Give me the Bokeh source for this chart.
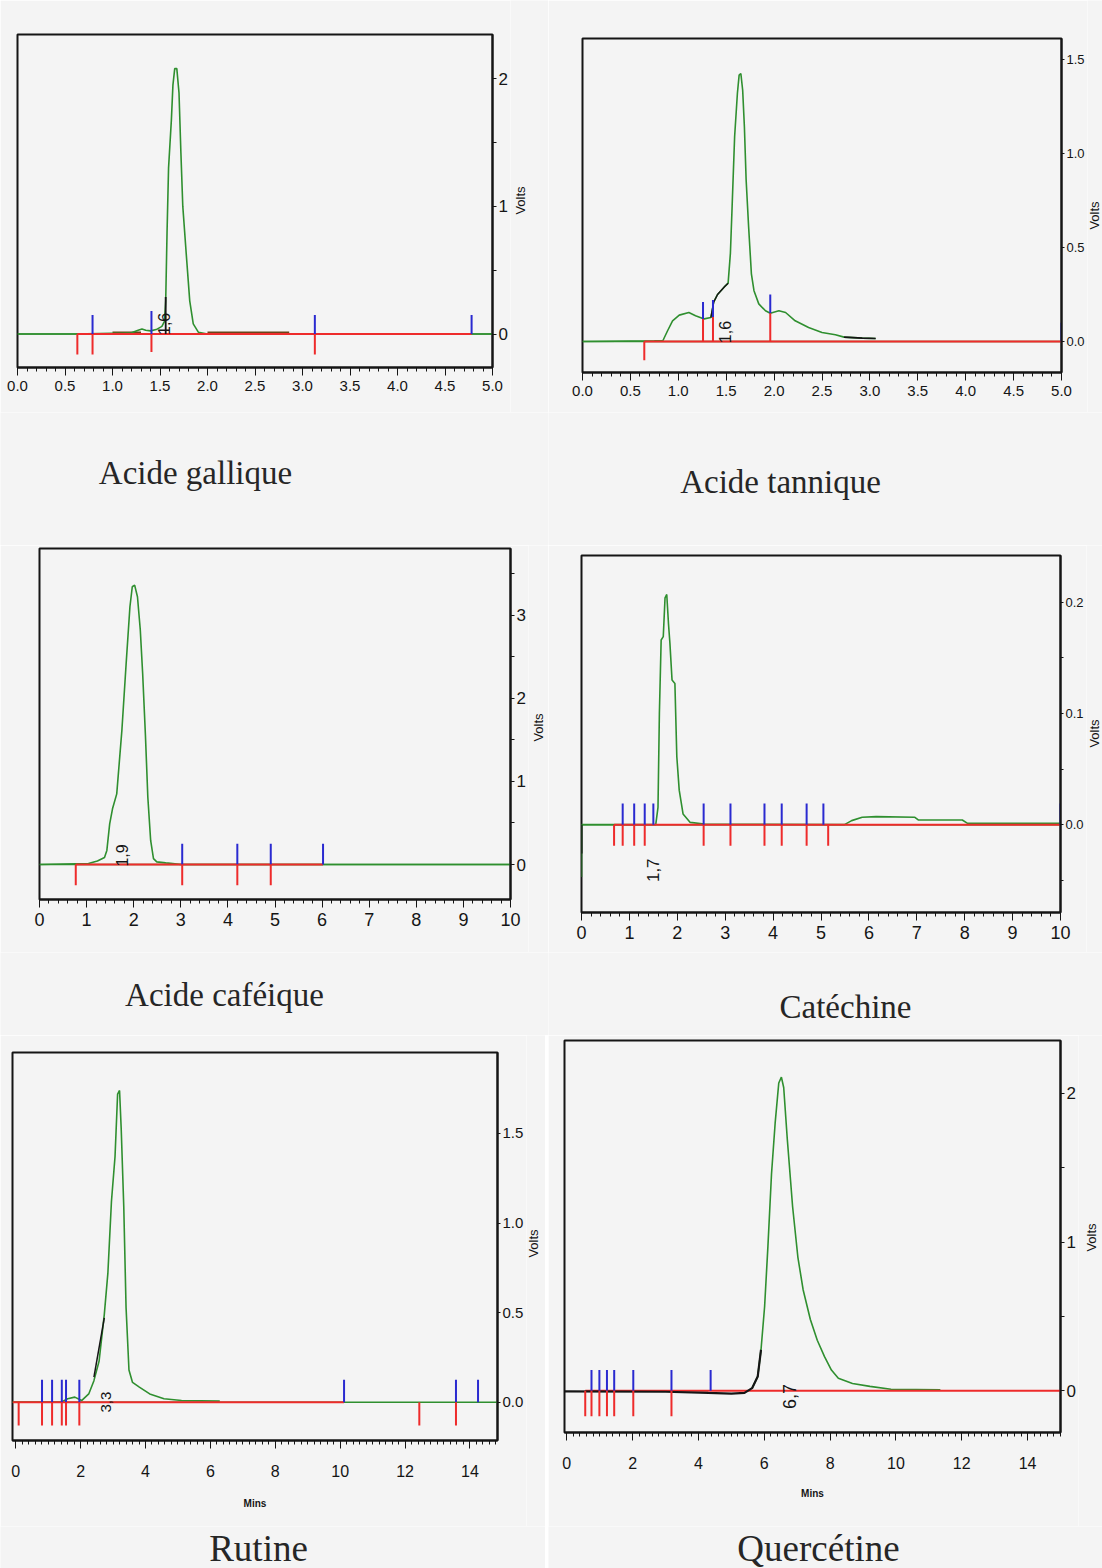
import numpy as np
from bokeh.plotting import figure
from bokeh.layouts import column, row
from bokeh.models import Range1d, FixedTicker, PrintfTickFormatter
from bokeh.core.properties import value
from bokeh.embed import file_html
from bokeh.resources import INLINE

# ------------------------------------------------------------------ data
titles = ["Acide gallique", "Acide tannique", "Acide caféique", "Catéchine", "Rutine", "Quercétine"]
peak_labels = ["1,6", "1,6", "1,9", "1,7", "3,3", "6,7"]
peak_label_t = [1.546, 1.49, 1.75, 1.49, 2.79, 6.76]
peak_label_v = [0.08, 0.05, 0.11, -0.041, 0.0, -0.038]
y_axis_label = "Volts"
x_axis_label = ["", "", "", "", "Mins", "Mins"]

# Acide gallique
gallique_t = [0.00, 0.60, 0.99, 1.10, 1.20, 1.27, 1.31, 1.35, 1.40, 1.46, 1.52, 1.547, 1.56, 1.574,
              1.59, 1.62, 1.636, 1.655, 1.677, 1.70, 1.72, 1.74, 1.776, 1.813, 1.85, 1.905, 2.00, 5.00]
gallique_v = [0.00, 0.00, 0.005, 0.006, 0.010, 0.030, 0.040, 0.030, 0.025, 0.035, 0.060, 0.10, 0.26, 0.79,
              1.30, 1.68, 1.95, 2.08, 2.08, 1.89, 1.42, 1.00, 0.63, 0.26, 0.08, 0.013, 0.00, 0.00]
gallique_blue_t = [0.79, 1.41, 3.13, 4.78]
gallique_blue_v0 = [0.0, 0.0, 0.0, 0.0]
gallique_blue_v1 = [0.15, 0.18, 0.15, 0.15]
gallique_red_t = [0.63, 0.79, 1.41, 3.13]
gallique_red_v0 = [0.0, 0.0, 0.0, 0.0]
gallique_red_v1 = [-0.16, -0.16, -0.14, -0.16]

# Acide tannique
tannique_t = [0.00, 0.75, 0.84, 0.888, 0.94, 1.01, 1.11, 1.18, 1.27, 1.34, 1.37, 1.41, 1.48, 1.52, 1.544,
              1.562, 1.588, 1.617, 1.635, 1.653, 1.672, 1.69, 1.708, 1.734, 1.763, 1.79, 1.84, 1.91, 1.96,
              2.05, 2.12, 2.22, 2.36, 2.50, 2.64, 2.73, 2.92, 3.06]
tannique_v = [0.00, 0.003, 0.005, 0.057, 0.11, 0.14, 0.154, 0.137, 0.12, 0.127, 0.21, 0.25, 0.29, 0.31, 0.47,
              0.72, 1.09, 1.32, 1.416, 1.425, 1.336, 1.14, 0.86, 0.61, 0.36, 0.27, 0.20, 0.163, 0.15,
              0.163, 0.154, 0.11, 0.074, 0.048, 0.036, 0.023, 0.018, 0.016]
tannique_blue_t = [1.258, 1.362, 1.96, 5.0]
tannique_blue_v0 = [0.12, 0.13, 0.15, 0.0]
tannique_blue_v1 = [0.21, 0.22, 0.25, 0.10]
tannique_red_t = [0.645, 1.258, 1.362, 1.96]
tannique_red_v0 = [0.0, 0.12, 0.13, 0.15]
tannique_red_v1 = [-0.10, 0.0, 0.0, 0.0]

# Acide caféique
cafeique_t = [0.00, 1.04, 1.23, 1.38, 1.43, 1.49, 1.55, 1.64, 1.75, 1.84, 1.92, 1.97, 2.02, 2.08, 2.14,
              2.19, 2.25, 2.30, 2.36, 2.42, 2.49, 2.68, 2.83, 3.00, 10.0]
cafeique_v = [0.00, 0.012, 0.044, 0.084, 0.17, 0.49, 0.67, 0.85, 1.62, 2.42, 3.10, 3.34, 3.36, 3.22, 2.82,
              2.30, 1.54, 0.81, 0.29, 0.072, 0.032, 0.02, 0.012, 0.0, 0.0]
cafeique_blue_t = [3.03, 4.20, 4.91, 6.02]
cafeique_blue_v0 = [0.0, 0.0, 0.0, 0.0]
cafeique_blue_v1 = [0.25, 0.25, 0.25, 0.25]
cafeique_red_t = [0.77, 3.03, 4.20, 4.91]
cafeique_red_v0 = [0.0, 0.0, 0.0, 0.0]
cafeique_red_v1 = [-0.25, -0.25, -0.25, -0.25]

# Catéchine
catechine_t = [0.0, 0.0, 0.02, 1.55, 1.597, 1.626, 1.663, 1.707, 1.744, 1.78, 1.817, 1.846, 1.89, 1.95,
               1.99, 2.04, 2.12, 2.27, 2.56, 5.49, 5.64, 5.86, 6.15, 6.96, 7.03, 7.95, 8.06, 10.0]
catechine_v = [-0.047, 0.0, 0.0, 0.0, 0.0156, 0.10, 0.166, 0.169, 0.204, 0.207, 0.18, 0.163, 0.13, 0.127,
               0.061, 0.031, 0.0096, 0.002, 0.0006, 0.0, 0.0036, 0.0066, 0.0072, 0.0066, 0.0042, 0.0042,
               0.0012, 0.0012]
catechine_blue_t = [0.86, 1.10, 1.32, 1.50, 2.55, 3.11, 3.82, 4.18, 4.70, 5.05, 10.0]
catechine_blue_v0 = [0.0] * 11
catechine_blue_v1 = [0.019] * 11
catechine_red_t = [0.68, 0.86, 1.10, 1.32, 2.55, 3.11, 3.82, 4.18, 4.70, 5.15]
catechine_red_v0 = [0.0] * 10
catechine_red_v1 = [-0.019] * 10

# Rutine
rutine_t = [-0.1, 1.40, 1.60, 1.82, 2.03, 2.25, 2.41, 2.57, 2.73, 2.84, 2.95, 3.06, 3.14, 3.20, 3.25, 3.33,
            3.40, 3.49, 3.60, 3.81, 4.13, 4.57, 5.11, 6.29]
rutine_v = [0.0, 0.0, 0.019, 0.028, 0.009, 0.046, 0.12, 0.23, 0.49, 0.72, 1.12, 1.37, 1.72, 1.74, 1.53, 1.09,
            0.53, 0.18, 0.11, 0.084, 0.046, 0.019, 0.009, 0.006]
rutine_blue_t = [0.81, 1.12, 1.42, 1.55, 1.96, 10.12, 13.57, 14.25]
rutine_blue_v0 = [0.0] * 8
rutine_blue_v1 = [0.125] * 8
rutine_red_t = [0.09, 0.81, 1.12, 1.42, 1.55, 1.96, 12.44, 13.57]
rutine_red_v0 = [0.0] * 8
rutine_red_v1 = [-0.13] * 8

# Quercétine
quercetine_t = [5.63, 5.80, 5.90, 6.01, 6.11, 6.22, 6.33, 6.44, 6.52, 6.59, 6.70, 6.86, 7.02, 7.18, 7.40,
                7.61, 7.83, 8.04, 8.25, 8.68, 9.21, 9.85, 11.35]
quercetine_v = [0.018, 0.096, 0.275, 0.567, 0.97, 1.46, 1.80, 2.07, 2.11, 2.04, 1.69, 1.24, 0.90, 0.68, 0.48,
                0.34, 0.23, 0.14, 0.085, 0.05, 0.03, 0.011, 0.007]
quercetine_blue_t = [0.75, 0.99, 1.22, 1.44, 2.02, 3.18, 4.37]
quercetine_blue_v0 = [0.0] * 7
quercetine_blue_v1 = [0.14] * 7
quercetine_red_t = [0.56, 0.75, 0.99, 1.22, 1.44, 2.02, 3.18]
quercetine_red_v0 = [0.0] * 7
quercetine_red_v1 = [-0.17] * 7

# baselines (start, end) in minutes
green_base = [(0.0, 5.0), (0.0, 5.0), (0.0, 10.0), (0.0, 10.0), (-0.1, 14.85), None]
red_base = [(0.63, 4.78), (0.645, 5.0), (0.77, 6.02), (0.68, 10.0), (-0.1, 10.12), (0.56, 15.0)]
brown_base = [[(1.0, 1.3), (2.0, 2.86)], [], [], [], [], []]
brown_level = 0.006

# dark (integration) overlays: (times, volts, width)
black_overlays = [
    [([1.56, 1.56], [0.0, 0.29], 1.8)],
    [([1.34, 1.37, 1.41, 1.48, 1.52], [0.127, 0.21, 0.25, 0.29, 0.31], 1.4),
     ([2.73, 2.92, 3.06], [0.023, 0.018, 0.016], 1.6)],
    [],
    [([0.0, 0.0], [0.0, -0.026], 2.0)],
    [([2.41, 2.73], [0.14, 0.47], 1.5)],
    [([-0.07, 3.0, 4.3, 5.0, 5.4, 5.63, 5.80, 5.90], [-0.004, -0.006, -0.014, -0.018, -0.014, 0.018, 0.096, 0.275], 2.2)],
]

# axes
x_ranges = [(0, 5), (0, 5), (0, 10), (0, 10), (-0.1, 14.85), (-0.07, 15.0)]
y_ranges = [(-0.262, 2.347), (-0.165, 1.611), (-0.42, 3.80), (-0.079, 0.242), (-0.214, 1.952), (-0.28, 2.356)]
x_ticks = [[0, 0.5, 1, 1.5, 2, 2.5, 3, 3.5, 4, 4.5, 5]] * 2 + [list(range(0, 11))] * 2 + [list(range(0, 15, 2))] * 2
x_minor_step = [0.1, 0.1, 0.2, 0.2, 0.2, 0.2]
x_fmt = ["%.1f", "%.1f", "%d", "%d", "%d", "%d"]
y_ticks = [[0, 1, 2], [0, 0.5, 1.0, 1.5], [0, 1, 2, 3], [0, 0.1, 0.2], [0, 0.5, 1.0, 1.5], [0, 1, 2]]
y_minor = [[0.5, 1.5], [], [0.5, 1.5, 2.5, 3.5], [-0.05, 0.05, 0.15], [], [0.5, 1.5]]
y_fmt = ["%d", "%.1f", "%d", "%.1f", "%.1f", "%d"]

traces = [(gallique_t, gallique_v), (tannique_t, tannique_v), (cafeique_t, cafeique_v),
          (catechine_t, catechine_v), (rutine_t, rutine_v), (quercetine_t, quercetine_v)]
blue_marks = [(gallique_blue_t, gallique_blue_v0, gallique_blue_v1),
              (tannique_blue_t, tannique_blue_v0, tannique_blue_v1),
              (cafeique_blue_t, cafeique_blue_v0, cafeique_blue_v1),
              (catechine_blue_t, catechine_blue_v0, catechine_blue_v1),
              (rutine_blue_t, rutine_blue_v0, rutine_blue_v1),
              (quercetine_blue_t, quercetine_blue_v0, quercetine_blue_v1)]
red_marks = [(gallique_red_t, gallique_red_v0, gallique_red_v1),
             (tannique_red_t, tannique_red_v0, tannique_red_v1),
             (cafeique_red_t, cafeique_red_v0, cafeique_red_v1),
             (catechine_red_t, catechine_red_v0, catechine_red_v1),
             (rutine_red_t, rutine_red_v0, rutine_red_v1),
             (quercetine_red_t, quercetine_red_v0, quercetine_red_v1)]

# ------------------------------------------------------------------ layout / style
BG = "#f4f4f4"
GREEN = "#2f8f2f"
RED = "#ee2b2b"
BLUE = "#2a2ad0"
BROWN = "#6a4418"
INK = "#151515"

# chart canvases: (width, height, left, right, top, bottom) borders in px
geom = [(510, 412, 17, 17, 34, 45), (539, 412, 34, 24, 38, 40),
        (528, 407, 39, 17, 3, 53), (538, 407, 33, 24, 10, 40),
        (526, 491, 12, 27, 17, 86), (530, 491, 16, 18, 5, 94)]
# narrow side strips that carry the rotated "Volts" caption: (width, x, y_from_bottom)
volts_strip = [(38, 10, 212), (15, 7, 197), (20, 10, 225), (16, 7.5, 219), (19, 7, 283), (24, 13, 289)]
gap_after_left = [0, 0, 3]      # white separating line between the two bottom panels
xlab_size = ["15px", "15px", "18px", "18px", "16px", "16px"]
xlab_standoff = [5, 5, 5, 5, 16, 16]
mins_standoff = [0, 0, 0, 0, 18, 16]
ylab_size = ["17px", "13px", "17px", "13px", "15px", "17px"]
ytick_out = [4, 3, 4, 3, 3, 4]
plabel_size = ["16px", "16px", "16px", "17px", "15px", "18px"]

# title strips below each row
strip_h = [133, 83, 42]
title_place = [(195, 73, 33), (232, 64, 33), (224, 41, 33), (297, 29, 33), (258, 20, 37), (270, 20, 37)]


def make_panel(i):
    w, h, bl, br, bt, bb = geom[i]
    p = figure(width=w, height=h, x_range=Range1d(*x_ranges[i]), y_range=Range1d(*y_ranges[i]),
               y_axis_location="right", toolbar_location=None, output_backend="svg",
               min_border_left=bl, min_border_right=br, min_border_top=bt, min_border_bottom=bb,
               background_fill_color=BG, border_fill_color=BG)
    p.grid.visible = False
    p.outline_line_color = INK
    p.outline_line_width = 2

    xa = p.xaxis[0]
    x0, x1 = x_ranges[i]
    step = x_minor_step[i]
    minors = np.round(np.arange(np.ceil(x0 / step) * step, x1 + 1e-9, step), 3)
    xa.ticker = FixedTicker(ticks=x_ticks[i], minor_ticks=minors.tolist())
    xa.formatter = PrintfTickFormatter(format=x_fmt[i])
    xa.major_tick_out = 8
    xa.major_tick_in = 0
    xa.minor_tick_out = 4
    xa.minor_tick_in = 0
    xa.major_tick_line_color = INK
    xa.minor_tick_line_color = INK
    xa.axis_line_color = INK
    xa.axis_line_width = 2
    xa.major_label_standoff = xlab_standoff[i]
    xa.major_label_text_font = "Liberation Sans"
    xa.major_label_text_font_size = xlab_size[i]
    xa.major_label_text_color = INK
    if x_axis_label[i]:
        xa.axis_label = x_axis_label[i]
        xa.axis_label_text_font = "Liberation Sans"
        xa.axis_label_text_font_style = "bold"
        xa.axis_label_text_font_size = "10px"
        xa.axis_label_standoff = mins_standoff[i]
        xa.axis_label_text_color = INK

    ya = p.yaxis[0]
    ya.ticker = FixedTicker(ticks=y_ticks[i], minor_ticks=y_minor[i])
    ya.formatter = PrintfTickFormatter(format=y_fmt[i])
    ya.major_tick_out = ytick_out[i]
    ya.major_tick_in = 0
    ya.minor_tick_out = ytick_out[i]
    ya.minor_tick_in = 0
    ya.major_tick_line_color = INK
    ya.minor_tick_line_color = INK
    ya.axis_line_color = INK
    ya.axis_line_width = 2
    ya.major_label_standoff = 2
    ya.major_label_text_font = "Liberation Sans"
    ya.major_label_text_font_size = ylab_size[i]
    ya.major_label_text_color = INK

    if green_base[i] is not None:
        gb = green_base[i]
        p.line(x=[gb[0], gb[1]], y=[0, 0], line_color=GREEN, line_width=1.5)
    for (a, b) in brown_base[i]:
        p.line(x=[a, b], y=[brown_level, brown_level], line_color=BROWN, line_width=3.5)

    t, v = traces[i]
    p.line(x=t, y=v, line_color=GREEN, line_width=1.6)

    rb = red_base[i]
    p.line(x=[rb[0], rb[1]], y=[0, 0], line_color=RED, line_width=2)

    for (xs, ys, lw) in black_overlays[i]:
        p.line(x=xs, y=ys, line_color=INK, line_width=lw)

    bt_, bv0, bv1 = blue_marks[i]
    p.segment(x0=bt_, y0=bv0, x1=bt_, y1=bv1, line_color=BLUE, line_width=2)
    rt_, rv0, rv1 = red_marks[i]
    p.segment(x0=rt_, y0=rv0, x1=rt_, y1=rv1, line_color=RED, line_width=2)

    p.text(x=[peak_label_t[i]], y=[peak_label_v[i]], text=[peak_labels[i]], angle=np.pi / 2,
           text_align="center", text_baseline="middle", text_font=value("Liberation Sans"),
           text_font_size=value(plabel_size[i]), text_color=INK)
    return p


def blank_box(w, h, color):
    s = figure(width=w, height=h, x_range=Range1d(0, 1), y_range=Range1d(0, 1),
               toolbar_location=None, output_backend="svg", min_border=0,
               background_fill_color=color, border_fill_color=color)
    s.axis.visible = False
    s.grid.visible = False
    s.outline_line_color = None
    return s


def text_box(w, h, x, y, txt, font, size, angle=0.0, baseline="alphabetic", color=INK):
    s = blank_box(w, h, BG)
    s.x_range = Range1d(0, w)
    s.y_range = Range1d(0, h)
    s.text(x=[x], y=[y], text=[txt], angle=angle, text_align="center", text_baseline=baseline,
           text_font=value(font), text_font_size=value(size), text_color=color)
    return column(s)


def volts_box(i):
    w, x, y = volts_strip[i]
    return text_box(w, geom[i][1], x, y, y_axis_label, "Liberation Sans", "13px", angle=np.pi / 2,
                    baseline="middle")


def make_strip(r):
    figs = []
    for k in (2 * r, 2 * r + 1):
        w = geom[k][0] + volts_strip[k][0]
        cx, by, fs = title_place[k]
        figs.append(text_box(w, strip_h[r], cx, by, titles[k], "Liberation Serif", f"{fs}px", color="#262626"))
        if k == 2 * r and gap_after_left[r]:
            figs.append(column(blank_box(gap_after_left[r], strip_h[r], "white")))
    return row(*figs, spacing=0)


panels = [make_panel(i) for i in range(6)]


def chart_row(r):
    a, b = 2 * r, 2 * r + 1
    items = [column(panels[a]), volts_box(a)]
    if gap_after_left[r]:
        items.append(column(blank_box(gap_after_left[r], geom[a][1], "white")))
    items += [column(panels[b]), volts_box(b)]
    return row(*items, spacing=0)


layout = column(chart_row(0), make_strip(0),
                chart_row(1), make_strip(1),
                chart_row(2), make_strip(2), spacing=0)

open("out.html", "w").write(file_html(layout, INLINE))
